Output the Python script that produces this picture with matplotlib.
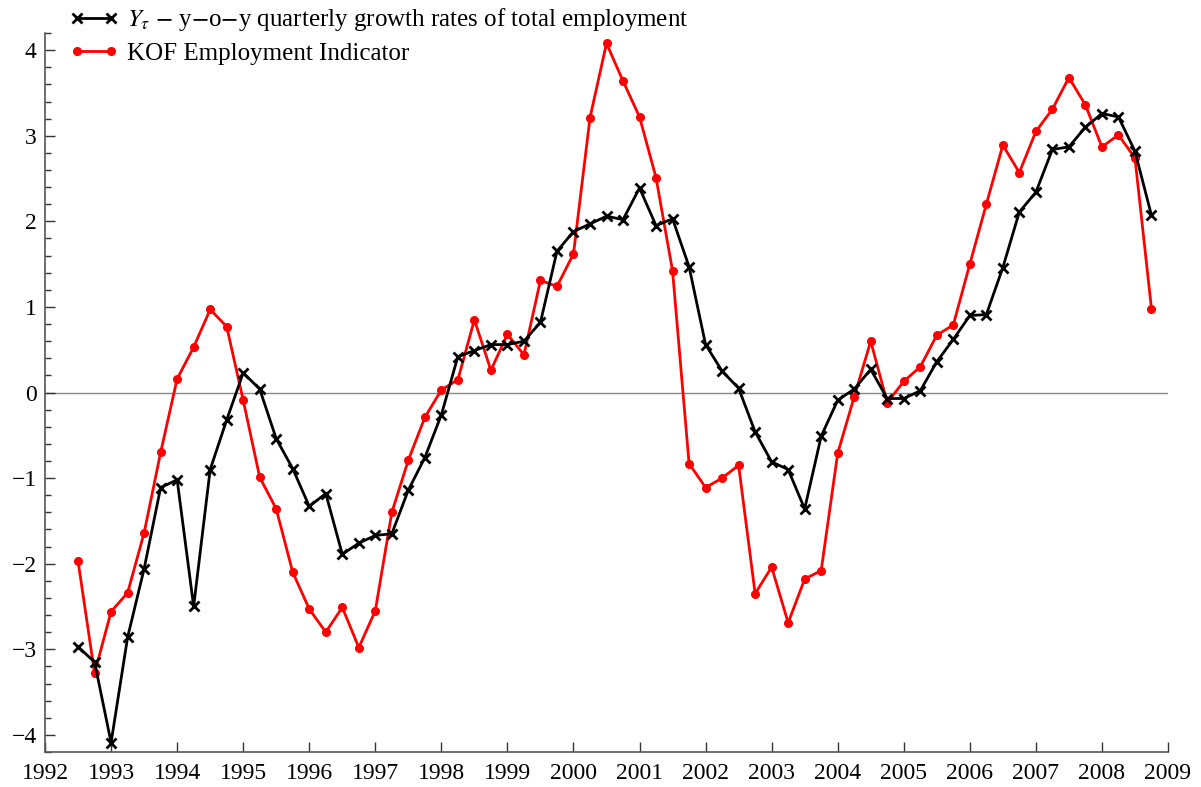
import numpy as np
import matplotlib
matplotlib.use("Agg")
import matplotlib.pyplot as plt
from matplotlib.ticker import MultipleLocator

plt.rcParams['font.family'] = ['Liberation Serif', 'DejaVu Serif']
plt.rcParams['mathtext.fontset'] = 'stix'

# quarterly observations, 1992Q3 .. 2008Q4
start_year = 1992.5
employment = [-2.97, -3.15, -4.09, -2.86, -2.06, -1.11, -1.02, -2.50,
              -0.90, -0.32, 0.23, 0.04, -0.54, -0.89, -1.33, -1.18,
              -1.89, -1.76, -1.67, -1.65, -1.14, -0.76, -0.26, 0.42,
              0.49, 0.56, 0.56, 0.60, 0.82, 1.65, 1.88, 1.97,
              2.06, 2.02, 2.39, 1.95, 2.03, 1.47, 0.56, 0.25,
              0.05, -0.46, -0.81, -0.90, -1.36, -0.51, -0.09, 0.04,
              0.27, -0.07, -0.07, 0.02, 0.36, 0.62, 0.90, 0.91,
              1.46, 2.11, 2.34, 2.84, 2.87, 3.10, 3.26, 3.22,
              2.82, 2.07]
kof = [-1.97, -3.28, -2.56, -2.34, -1.64, -0.70, 0.16, 0.53,
       0.97, 0.77, -0.09, -0.99, -1.36, -2.10, -2.53, -2.80,
       -2.51, -2.98, -2.55, -1.40, -0.79, -0.29, 0.03, 0.15,
       0.85, 0.26, 0.68, 0.44, 1.31, 1.24, 1.62, 3.21,
       4.08, 3.64, 3.22, 2.51, 1.42, -0.83, -1.11, -1.00,
       -0.85, -2.35, -2.04, -2.69, -2.18, -2.08, -0.71, -0.05,
       0.60, -0.12, 0.13, 0.30, 0.67, 0.79, 1.50, 2.20,
       2.89, 2.57, 3.05, 3.31, 3.68, 3.36, 2.87, 3.01,
       2.74, 0.98]
years = list(range(1992, 2010))

t = start_year + 0.25 * np.arange(len(employment))

fig = plt.figure(figsize=(12.01, 7.87), dpi=100)
ax = fig.add_axes([0.0375, 0.0445, 0.935, 0.9135])

ax.axhline(0, color='#888888', lw=1.0, zorder=1)
ax.plot(t, employment, color='black', lw=2, marker='x', ms=7, mew=2,
        label=r'$Y_\tau$ $-$ y$-$o$-$y quarterly growth rates of total employment', zorder=3)
ax.plot(t, kof, color='#ff0000', lw=2, marker='o', ms=5.5,
        label='KOF Employment Indicator', zorder=2)

ax.set_xlim(1992, 2009)
ax.set_ylim(-4.2, 4.2)
ax.set_xticks(years)
ax.yaxis.set_major_locator(MultipleLocator(1))
ax.yaxis.set_minor_locator(MultipleLocator(0.2))

for s in ['top', 'right']:
    ax.spines[s].set_visible(False)
for s in ['left', 'bottom']:
    ax.spines[s].set_color('#555555')
    ax.spines[s].set_linewidth(1.2)

ax.tick_params(axis='both', which='major', direction='in', length=7, width=1,
               labelsize=17, color='#333333')
ax.tick_params(axis='x', pad=8)
ax.tick_params(axis='y', pad=6)
ax.tick_params(axis='y', which='minor', direction='in', length=4, width=1, color='#333333')

ax.legend(loc='upper left', bbox_to_anchor=(0.022, 1.037), frameon=False,
          fontsize=18, numpoints=2, handlelength=1.95, handletextpad=0.36,
          labelspacing=0.35, borderaxespad=0, borderpad=0)

fig.savefig('out.png', dpi=100)
